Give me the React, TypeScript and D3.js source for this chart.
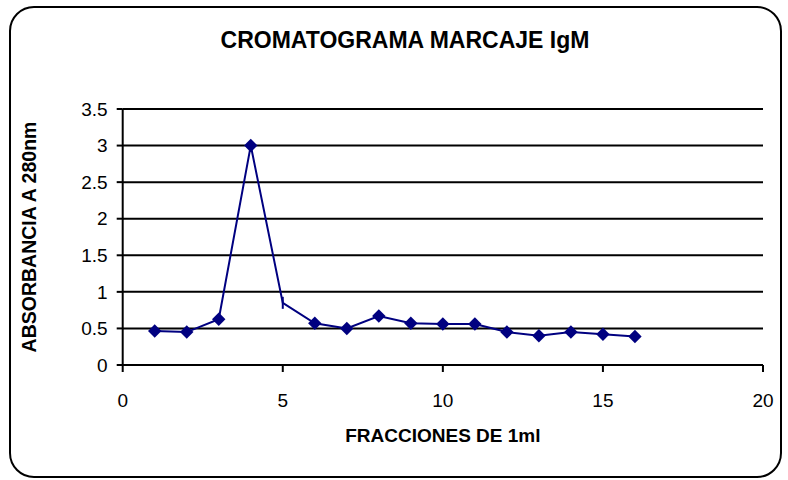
import React, { useEffect } from "react";
import * as d3 from "d3";

const fractions = [1, 2, 3, 4, 5, 6, 7, 8, 9, 10, 11, 12, 13, 14, 15, 16];
const absorbance = [0.465, 0.45, 0.625, 3.0, 0.85, 0.57, 0.5, 0.67, 0.57, 0.56, 0.56, 0.45, 0.4, 0.45, 0.42, 0.39];
const xTicks = [0, 5, 10, 15, 20];
const yTicks = [0, 0.5, 1, 1.5, 2, 2.5, 3, 3.5];
const title = "CROMATOGRAMA MARCAJE IgM";
const xTitle = "FRACCIONES DE 1ml";
const yTitle = "ABSORBANCIA A 280nm";

const W = 788;
const H = 480;
const FONT = "'Liberation Sans', Arial, sans-serif";
const NAVY = "#000080";

export default function App() {
  useEffect(() => {
    document.body.style.margin = "0";
  }, []);

  const x = d3.scaleLinear().domain([0, 20]).range([122.7, 763]);
  const y = d3.scaleLinear().domain([0, 3.5]).range([365, 109]);

  const data = fractions.map((f, i) => ({ f, v: absorbance[i] }));
  const line = d3
    .line<{ f: number; v: number }>()
    .x((d) => x(d.f))
    .y((d) => y(d.v));
  const diamond = d3.symbol().type(d3.symbolDiamond2).size(115)();

  const [x0, x1] = x.range();
  const [y0, y1] = y.range();

  return (
    <svg width={W} height={H} style={{ display: "block" }} fontFamily={FONT}>
      <rect x={0} y={0} width={W} height={H} fill="#fff" />
      <rect x={10} y={7} width={771} height={470} rx={24} ry={24} fill="none" stroke="#000" strokeWidth={2} />
      <text x={405} y={48} textAnchor="middle" fontSize={23} fontWeight="bold">{title}</text>

      {yTicks.map((t) => (
        <g key={"y" + t}>
          {t > 0 && <line x1={x0} x2={x1} y1={y(t)} y2={y(t)} stroke="#000" strokeWidth={2} />}
          <line x1={x0 - 6} x2={x0} y1={y(t)} y2={y(t)} stroke="#000" strokeWidth={2} />
          <text x={x0 - 15} y={y(t)} dy="0.35em" textAnchor="end" fontSize={19}>{t}</text>
        </g>
      ))}
      <line x1={x0} x2={x0} y1={y0} y2={y1} stroke="#000" strokeWidth={2} />
      <line x1={x0} x2={x1} y1={y0} y2={y0} stroke="#000" strokeWidth={2} />
      {xTicks.map((t) => (
        <g key={"x" + t}>
          <line x1={x(t)} x2={x(t)} y1={y0} y2={y0 + 7} stroke="#000" strokeWidth={2} />
          <text x={x(t)} y={y0 + 42} textAnchor="middle" fontSize={19}>{t}</text>
        </g>
      ))}

      <text x={(x0 + x1) / 2} y={442} textAnchor="middle" fontSize={19} fontWeight="bold">{xTitle}</text>
      <text transform={`translate(36,${(y0 + y1) / 2}) rotate(-90)`} textAnchor="middle" fontSize={19.5} fontWeight="bold">{yTitle}</text>

      <path d={line(data) || ""} fill="none" stroke={NAVY} strokeWidth={2} />
      {data.map((d) =>
        d.f === 5 ? (
          <line key={d.f} x1={x(d.f)} x2={x(d.f)} y1={y(d.v) - 6} y2={y(d.v) + 6} stroke={NAVY} strokeWidth={2} />
        ) : (
          <path key={d.f} d={diamond || ""} transform={`translate(${x(d.f)},${y(d.v)})`} fill={NAVY} />
        )
      )}
    </svg>
  );
}
